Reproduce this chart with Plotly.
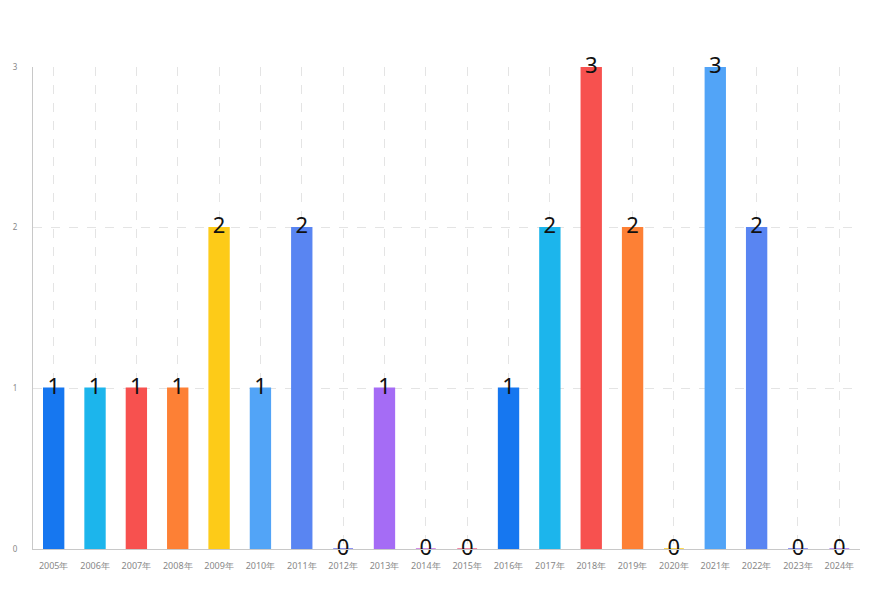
import plotly.graph_objects as go

years = ["2005年", "2006年", "2007年", "2008年", "2009年", "2010年", "2011年", "2012年",
         "2013年", "2014年", "2015年", "2016年", "2017年", "2018年", "2019年", "2020年",
         "2021年", "2022年", "2023年", "2024年"]
counts = [1, 1, 1, 1, 2, 1, 2, 0, 1, 0, 0, 1, 2, 3, 2, 0, 3, 2, 0, 0]
palette = ["#1677f0", "#1cb5ec", "#f7514f", "#fd8035", "#fdcb18", "#52a4f7",
           "#5985f2", "#6a6ff0", "#a56cf5", "#c86ae0", "#f0608a"]
y_ticks = [0, 1, 2, 3]

colors = [palette[i % len(palette)] for i in range(len(years))]

fig = go.Figure()
fig.add_trace(go.Bar(
    x=years, y=counts,
    marker=dict(color=colors, line=dict(color=colors, width=1.5)),
    width=0.48,
    hoverinfo="x+y",
))
fig.add_trace(go.Scatter(
    x=years, y=counts, mode="text",
    text=[str(v) for v in counts],
    textposition="middle center",
    textfont=dict(family="Noto Sans", size=22, color="#111111"),
    hoverinfo="skip", cliponaxis=False,
))

fig.update_layout(
    width=872, height=600,
    margin=dict(l=33, r=12, t=67, b=51),
    paper_bgcolor="white", plot_bgcolor="white",
    showlegend=False,
    font=dict(family="Noto Sans", color="#888888", size=9),
    xaxis=dict(
        type="category",
        range=[-0.5, len(years) - 0.5], autorange=False,
        showgrid=True, gridcolor="#e4e4e4", griddash="dash", gridwidth=1,
        showline=True, linecolor="#c8c8c8", linewidth=1,
        ticks="", tickfont=dict(size=9, color="#888888"),
        ticklabelstandoff=8,
    ),
    yaxis=dict(
        range=[0, 3], tickvals=y_ticks,
        showgrid=True, gridcolor="#e4e4e4", griddash="dash", gridwidth=1,
        showline=True, linecolor="#c8c8c8", linewidth=1,
        zeroline=False,
        ticks="", tickfont=dict(size=8, color="#888888"),
        ticklabelstandoff=13,
    ),
)

fig.write_html("out.html")
